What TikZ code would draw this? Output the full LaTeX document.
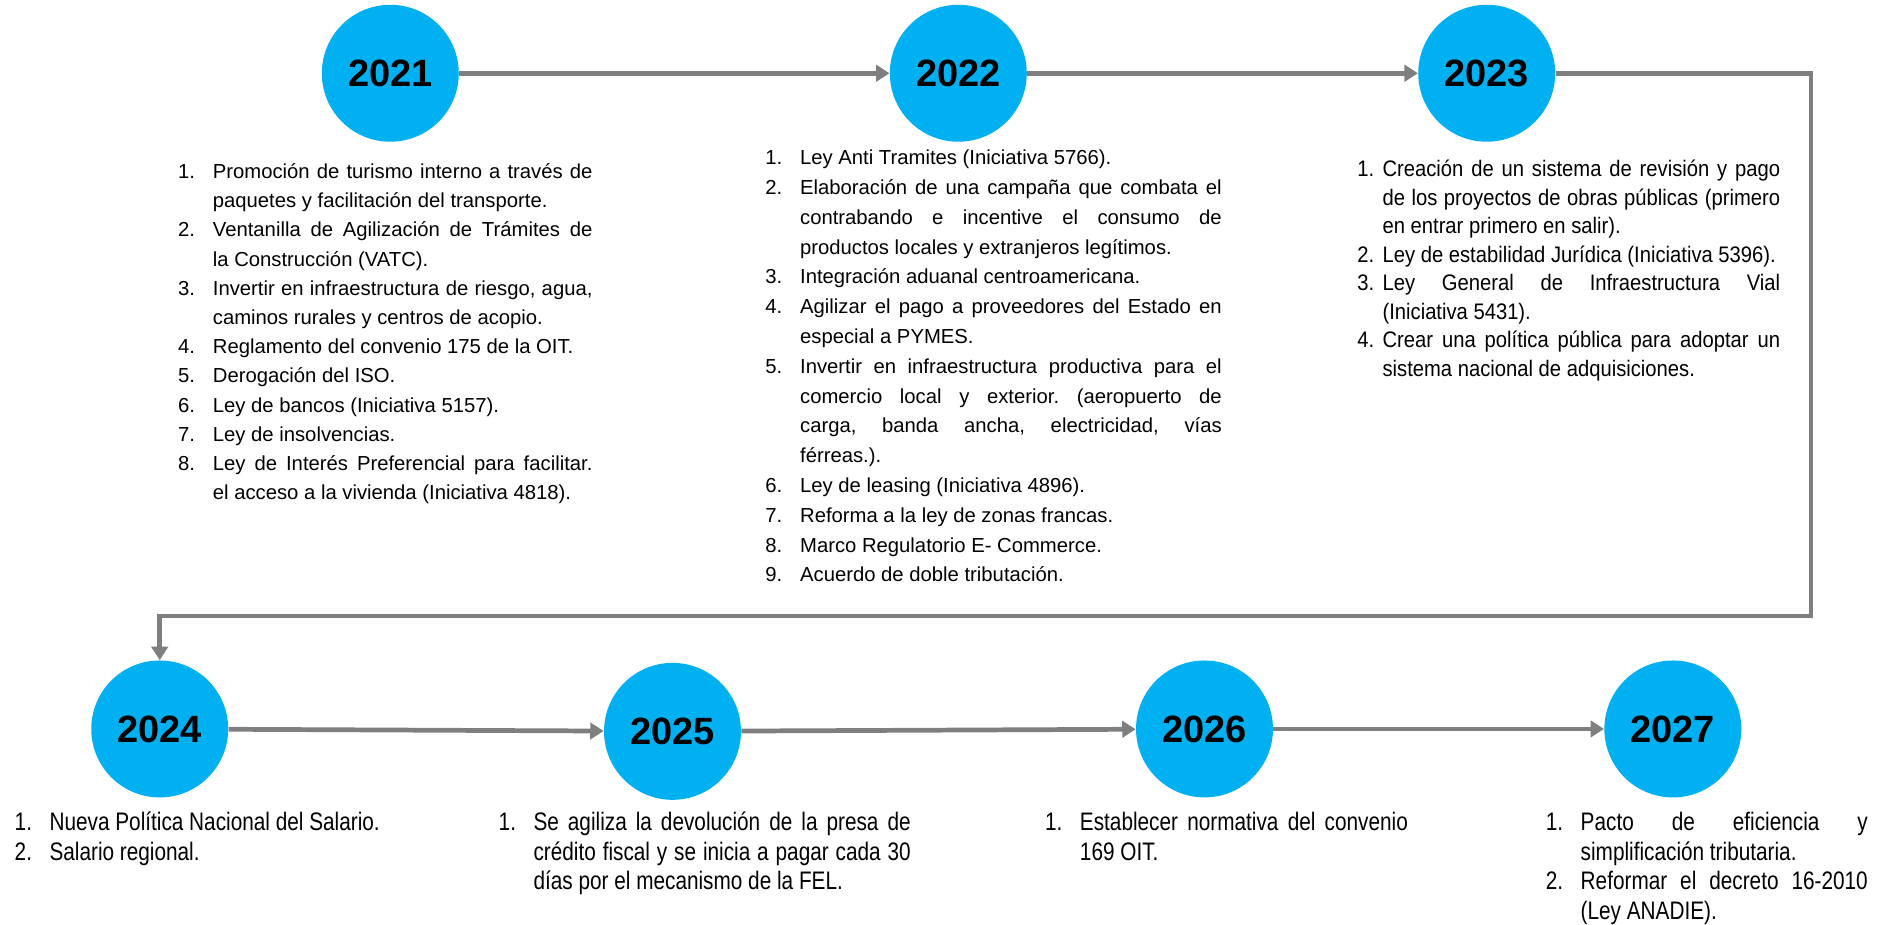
\documentclass[tikz,border=0pt]{standalone}
\usepackage{fontspec}
\setmainfont{Liberation Sans}
\newfontfamily\midnarrow{Liberation Sans}[FakeStretch=0.9]
\newfontfamily\lownarrow{Liberation Sans}[FakeStretch=0.82]
\usepackage{enumitem}
\usetikzlibrary{arrows.meta}
\definecolor{yearblue}{HTML}{00B0F0}
\definecolor{linegray}{HTML}{7F7F7F}
\tikzset{>={Triangle[length=2.8mm,width=3.4mm]}}
\setlist[enumerate]{label=\arabic*.,align=left,labelindent=0pt,leftmargin=0.725cm,labelwidth=0.725cm,labelsep=0pt,topsep=0pt,partopsep=0pt,itemsep=0pt,parsep=0pt}
\hyphenpenalty=10000
\frenchspacing
\tikzset{
  year/.style={circle, fill=yearblue, minimum size=2.85cm, inner sep=0pt, font=\fontsize{22.5}{26}\selectfont\bfseries},
  items/.style={anchor=north west, inner sep=0pt, align=justify, text width=#1, font=\fontsize{12}{17.3}\selectfont},
  looseitems/.style={font=\fontsize{12}{17.65}\selectfont},
  midtext/.style={font=\midnarrow\fontsize{13.3}{16.9}\selectfont},
  lowtext/.style={font=\lownarrow\fontsize{15}{17.5}\selectfont},
  flow/.style={->, draw=linegray, line width=2.8pt}
}

\begin{document}
\begin{tikzpicture}[x=0.025cm,y=-0.025cm]
    \useasboundingbox (0,0) rectangle (1568,770);

    % Draw the year circles of the top row
    \node[year] (c2021) at (325,61) {2021};
    \node[year] (c2022) at (798,61) {2022};
    \node[year] (c2023) at (1238,61) {2023};

    % Draw the year circles of the bottom row
    \node[year] (c2024) at (133,607) {2024};
    \node[year] (c2025) at (560,609) {2025};
    \node[year] (c2026) at (1003,607) {2026};
    \node[year] (c2027) at (1393,607) {2027};

    % Corners of the line that turns down to the bottom row
    \coordinate (tr) at (1508,61);
    \coordinate (br) at (1508,513);
    \coordinate (bl) at (133,513);

    % Draw the arrows between the years
    \draw[flow] (c2021) -- (c2022);
    \draw[flow] (c2022) -- (c2023);
    \draw[flow] (c2023) -- (tr) -- (br) -- (bl) -- (c2024);
    \draw[flow] (c2024) -- (c2025);
    \draw[flow] (c2025) -- (c2026);
    \draw[flow] (c2026) -- (c2027);

    % Draw the lists under the top row
    \node[items=8.625cm] (b2021) at (148,124) {%
      \begin{enumerate}
        \item Promoción de turismo interno a través de\linebreak paquetes y facilitación del transporte.
        \item Ventanilla de Agilización de Trámites de\linebreak la Construcción (VATC).
        \item Invertir en infraestructura de riesgo, agua,\linebreak caminos rurales y centros de acopio.
        \item Reglamento del convenio 175 de la OIT.
        \item Derogación del ISO.
        \item Ley de bancos (Iniciativa 5157).
        \item Ley de insolvencias.
        \item Ley de Interés Preferencial para facilitar.\linebreak el acceso a la vivienda (Iniciativa 4818).
      \end{enumerate}};
    \node[items=9.5cm, looseitems] (b2022) at (637,112) {%
      \begin{enumerate}
        \item Ley Anti Tramites (Iniciativa 5766).
        \item Elaboración de una campaña que combata el\linebreak contrabando e incentive el consumo de\linebreak productos locales y extranjeros legítimos.
        \item Integración aduanal centroamericana.
        \item Agilizar el pago a proveedores del Estado en\linebreak especial a PYMES.
        \item Invertir en infraestructura productiva para el\linebreak comercio local y exterior. (aeropuerto de\linebreak carga, banda ancha, electricidad, vías\linebreak férreas.).
        \item Ley de leasing (Iniciativa 4896).
        \item Reforma a la ley de zonas francas.
        \item Marco Regulatorio E- Commerce.
        \item Acuerdo de doble tributación.
      \end{enumerate}};
    \node[items=8.8cm, midtext] (b2023) at (1130,123) {%
      \begin{enumerate}[leftmargin=0.525cm,labelwidth=0.525cm]
        \item Creación de un sistema de revisión y pago\linebreak de los proyectos de obras públicas (primero\linebreak en entrar primero en salir).
        \item Ley de estabilidad Jurídica (Iniciativa 5396).
        \item Ley General de Infraestructura Vial\linebreak (Iniciativa 5431).
        \item Crear una política pública para adoptar un\linebreak sistema nacional de adquisiciones.
      \end{enumerate}};

    % Draw the lists under the bottom row
    \node[items=8cm, lowtext] (b2024) at (12,667) {%
      \begin{enumerate}
        \item Nueva Política Nacional del Salario.
        \item Salario regional.
      \end{enumerate}};
    \node[items=8.575cm, lowtext] (b2025) at (415,667) {%
      \begin{enumerate}
        \item Se agiliza la devolución de la presa de\linebreak crédito fiscal y se inicia a pagar cada 30\linebreak días por el mecanismo de la FEL.
      \end{enumerate}};
    \node[items=7.55cm, lowtext] (b2026) at (870,667) {%
      \begin{enumerate}
        \item Establecer normativa del convenio\linebreak 169 OIT.
      \end{enumerate}};
    \node[items=6.7cm, lowtext] (b2027) at (1287,667) {%
      \begin{enumerate}
        \item Pacto de eficiencia y\linebreak simplificación tributaria.
        \item Reformar el decreto 16-2010\linebreak (Ley ANADIE).
      \end{enumerate}};
\end{tikzpicture}
\end{document}
